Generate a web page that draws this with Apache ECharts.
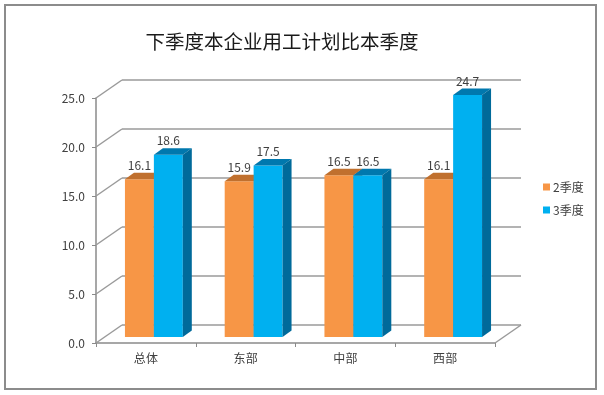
<!DOCTYPE html>
<html>
<head>
<meta charset="utf-8">
<script src="https://cdn.jsdelivr.net/npm/echarts@6/dist/echarts.min.js"></script>
<style>
html,body{margin:0;padding:0;background:#fff;}
#chart{width:604px;height:395px;}
</style>
</head>
<body>
<div id="chart"></div>
<script>
const titleText = '下季度本企业用工计划比本季度';
const categories = ['总体', '东部', '中部', '西部'];
const seriesNames = ['2季度', '3季度'];
const q2Values = [16.1, 15.9, 16.5, 16.1];
const q3Values = [18.6, 17.5, 16.5, 24.7];
const yTicks = [0, 5, 10, 15, 20, 25];

// 3D projection constants (pixels)
const DX = 26, DY = -18;      // wall depth
const SX = 8, SY = -6;        // bar front-face offset from front plane
const BX = 9, BY = -6.5;      // bar depth
const BAR_RATIO = 0.29;

const palette = [
  {front: '#F79646', top: '#C0702E', side: '#B5652A'},
  {front: '#00B0F0', top: '#0078AE', side: '#006A9A'}
];

const chart = echarts.init(document.getElementById('chart'));
const FONT = '"Noto Sans CJK SC", "Noto Sans", sans-serif';

function frameRender(params, api) {
  const cs = params.coordSys;
  const x0 = cs.x, x1 = cs.x + cs.width;
  const children = [];
  const st = {stroke: '#9a9a9a', lineWidth: 1.5};
  yTicks.forEach(v => {
    const y = api.coord([0, v])[1];
    children.push({type: 'line', shape: {x1: x0, y1: y, x2: x0 + DX, y2: y + DY}, style: st});
    children.push({type: 'line', shape: {x1: x0 + DX, y1: y + DY, x2: x1 + DX, y2: y + DY}, style: st});
  });
  const yb = api.coord([0, 0])[1];
  children.push({type: 'line', shape: {x1: x1, y1: yb, x2: x1 + DX, y2: yb + DY}, style: st});
  return {type: 'group', children};
}

function makeBarRender(sIdx) {
  return function (params, api) {
    const i = api.value(0), v = api.value(1);
    const c = api.coord([i, v]);
    const b = api.coord([i, 0]);
    const bandW = api.size([1, 0])[0];
    const w = bandW * BAR_RATIO;
    const x = c[0] - (sIdx === 0 ? w : 0) + SX;
    const t = c[1] + SY, bt = b[1] + SY;
    const col = palette[sIdx];
    return {
      type: 'group',
      children: [
        {type: 'rect', shape: {x: x, y: t, width: w, height: bt - t}, style: {fill: col.front}},
        {type: 'polygon', shape: {points: [[x, t], [x + w, t], [x + w + BX, t + BY], [x + BX, t + BY]]}, style: {fill: col.top}},
        {type: 'polygon', shape: {points: [[x + w, t], [x + w + BX, t + BY], [x + w + BX, bt + BY], [x + w, bt]]}, style: {fill: col.side}},
        {type: 'text', style: {text: v.toFixed(1), x: x + w / 2, y: t - 14, align: 'center', verticalAlign: 'middle',
          fill: '#404040', fontSize: 12, fontFamily: FONT}}
      ]
    };
  };
}

const option = {
  backgroundColor: '#fff',
  animation: false,
  title: {
    text: titleText, left: 277, top: 27, textAlign: 'center',
    textStyle: {fontSize: 19.5, fontWeight: 'normal', color: '#1a1a1a', fontFamily: FONT}
  },
  legend: {
    orient: 'vertical', left: 538, top: 176, itemWidth: 7, itemHeight: 7, itemGap: 11,
    icon: 'rect', data: seriesNames,
    textStyle: {fontSize: 12, color: '#404040', fontFamily: FONT, padding: [0, 0, 0, -2]}
  },
  grid: {left: 96, right: 109, top: 98, bottom: 52},
  xAxis: {
    type: 'category', data: categories,
    axisLine: {lineStyle: {color: '#8a8a8a', width: 1.5}},
    axisTick: {show: true, length: 4, lineStyle: {color: '#8a8a8a'}},
    axisLabel: {fontSize: 12, color: '#404040', margin: 9, fontFamily: FONT},
    splitLine: {show: false}
  },
  yAxis: {
    type: 'value', min: 0, max: 25, interval: 5,
    axisLine: {show: true, lineStyle: {color: '#8a8a8a', width: 1.5}},
    axisTick: {show: true, length: 4, lineStyle: {color: '#8a8a8a'}},
    axisLabel: {fontSize: 12, color: '#404040', margin: 11, fontFamily: FONT,
      formatter: v => v.toFixed(1)},
    splitLine: {show: false}
  },
  graphic: [{
    type: 'rect', shape: {x: 5, y: 5, width: 591, height: 384},
    style: {fill: 'none', stroke: '#8c8c8c', lineWidth: 2}, silent: true, z: -1
  }],
  series: [
    {type: 'custom', name: '__frame', coordinateSystem: 'cartesian2d', renderItem: frameRender,
      data: [[0, 0]], silent: true, z: 1, legendHoverLink: false},
    {type: 'custom', name: seriesNames[0], coordinateSystem: 'cartesian2d', renderItem: makeBarRender(0),
      itemStyle: {color: palette[0].front}, encode: {x: 0, y: 1},
      data: q2Values.map((v, i) => [i, v]), z: 2},
    {type: 'custom', name: seriesNames[1], coordinateSystem: 'cartesian2d', renderItem: makeBarRender(1),
      itemStyle: {color: palette[1].front}, encode: {x: 0, y: 1},
      data: q3Values.map((v, i) => [i, v]), z: 3}
  ]
};
chart.setOption(option);
</script>
</body>
</html>
